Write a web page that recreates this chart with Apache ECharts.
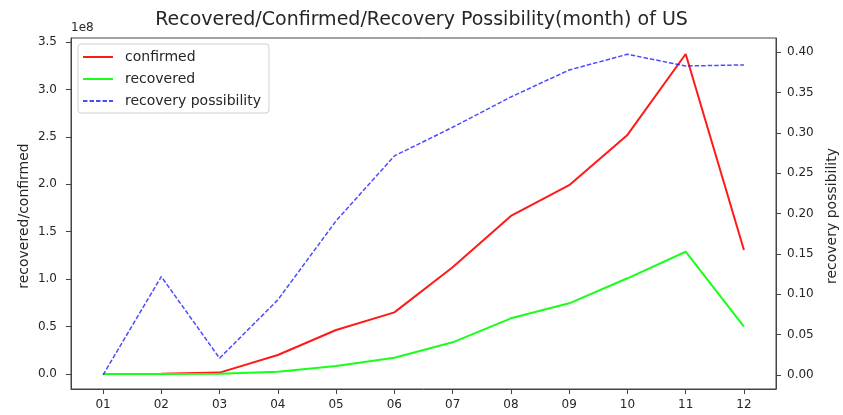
<!DOCTYPE html>
<html>
<head>
<meta charset="utf-8">
<title>Recovered/Confirmed/Recovery Possibility(month) of US</title>
<script src="https://cdn.jsdelivr.net/npm/echarts@6/dist/echarts.min.js"></script>
<style>
  html, body { margin: 0; padding: 0; background: #fff; }
  #chart { width: 843px; height: 415px; }
</style>
</head>
<body>
<div id="chart"></div>
<script>
// Month labels along the x axis
const months = ['01', '02', '03', '04', '05', '06', '07', '08', '09', '10', '11', '12'];

// Monthly totals (people)
const confirmed = [0, 0.002e8, 0.015e8, 0.20e8, 0.464e8, 0.65e8, 1.125e8, 1.666e8, 1.99e8, 2.52e8, 3.373e8, 1.307e8];
const recovered = [0, 0, 0.002e8, 0.024e8, 0.084e8, 0.172e8, 0.334e8, 0.587e8, 0.745e8, 1.009e8, 1.289e8, 0.499e8];

// Share of confirmed cases that recovered
const recoveryPossibility = [0, 0.1219, 0.0207, 0.093, 0.191, 0.2715, 0.307, 0.3446, 0.378, 0.3975, 0.383, 0.3843];

// Tick values of both y axes
const leftTicks = [0, 0.5e8, 1.0e8, 1.5e8, 2.0e8, 2.5e8, 3.0e8, 3.5e8];
const rightTicks = [0, 0.05, 0.10, 0.15, 0.20, 0.25, 0.30, 0.35, 0.40];

const FONT = 'DejaVu Sans';
const INK = '#262626';
const SPINE = '#444';
const monthIdx = months.map((_, i) => i);
const pairs = vals => vals.map((v, i) => [i, v]);

const spine = { show: true, onZero: false, lineStyle: { color: SPINE, width: 1 } };
const ticks = values => ({ show: true, inside: false, length: 5, lineStyle: { color: SPINE, width: 1 }, customValues: values });

const chart = echarts.init(document.getElementById('chart'), null, { renderer: 'canvas' });

chart.setOption({
  animation: false,
  backgroundColor: '#fff',
  title: {
    text: 'Recovered/Confirmed/Recovery Possibility(month) of US',
    left: 'center',
    top: 6,
    textStyle: { fontFamily: FONT, fontSize: 19, fontWeight: 'normal', color: INK }
  },
  grid: {
    left: 71, top: 38, right: 67, bottom: 26,
    show: true, borderColor: SPINE, borderWidth: 1, backgroundColor: 'transparent'
  },
  legend: {
    orient: 'vertical',
    left: 78, top: 44,
    padding: [6, 8, 5, 4],
    itemWidth: 30, itemHeight: 14, itemGap: 8,
    borderColor: '#d0d0d0', borderWidth: 1, borderRadius: 3,
    backgroundColor: 'rgba(255,255,255,0.8)',
    itemStyle: { opacity: 0 },
    textStyle: { fontFamily: FONT, fontSize: 14, color: INK, padding: [0, 0, 0, 7] },
    data: ['confirmed', 'recovered', 'recovery possibility']
  },
  xAxis: {
    type: 'value',
    min: -0.55, max: 11.55,
    splitLine: { show: false },
    axisLine: spine,
    axisTick: ticks(monthIdx),
    axisLabel: {
      customValues: monthIdx,
      formatter: v => months[Math.round(v)],
      margin: 10,
      fontFamily: FONT, fontSize: 12, color: INK
    }
  },
  yAxis: [
    {
      type: 'value',
      position: 'left',
      min: -0.158e8, max: 3.542e8,
      splitLine: { show: false },
      axisLine: spine,
      axisTick: ticks(leftTicks),
      axisLabel: {
        customValues: leftTicks,
        formatter: v => (v / 1e8).toFixed(1),
        margin: 14,
        fontFamily: FONT, fontSize: 12, color: INK
      }
    },
    {
      type: 'value',
      position: 'right',
      min: -0.0175, max: 0.4177,
      splitLine: { show: false },
      axisLine: spine,
      axisTick: ticks(rightTicks),
      axisLabel: {
        customValues: rightTicks,
        formatter: v => v.toFixed(2),
        margin: 11,
        fontFamily: FONT, fontSize: 12, color: INK
      }
    }
  ],
  graphic: [
    {
      type: 'text', left: 71, top: 22,
      style: { text: '1e8', fontFamily: FONT, fontSize: 12, fill: INK }
    },
    {
      type: 'text', x: 24, y: 216, rotation: Math.PI / 2,
      style: {
        text: 'recovered/confirmed', fontFamily: FONT, fontSize: 14, fill: INK,
        align: 'center', verticalAlign: 'middle'
      }
    },
    {
      type: 'text', x: 832, y: 216, rotation: Math.PI / 2,
      style: {
        text: 'recovery possibility', fontFamily: FONT, fontSize: 14, fill: INK,
        align: 'center', verticalAlign: 'middle'
      }
    }
  ],
  series: [
    {
      name: 'confirmed', type: 'line', yAxisIndex: 0,
      data: pairs(confirmed), symbol: 'none',
      lineStyle: { color: '#ff1a1a', width: 2 }, itemStyle: { color: '#ff1a1a' }
    },
    {
      name: 'recovered', type: 'line', yAxisIndex: 0,
      data: pairs(recovered), symbol: 'none',
      lineStyle: { color: '#1aff1a', width: 2 }, itemStyle: { color: '#1aff1a' }
    },
    {
      name: 'recovery possibility', type: 'line', yAxisIndex: 1,
      data: pairs(recoveryPossibility), symbol: 'none',
      lineStyle: { color: 'rgba(30,30,255,0.8)', width: 1.5, type: [4.5, 2] },
      itemStyle: { color: 'rgba(30,30,255,0.8)' }
    }
  ]
});
</script>
</body>
</html>
